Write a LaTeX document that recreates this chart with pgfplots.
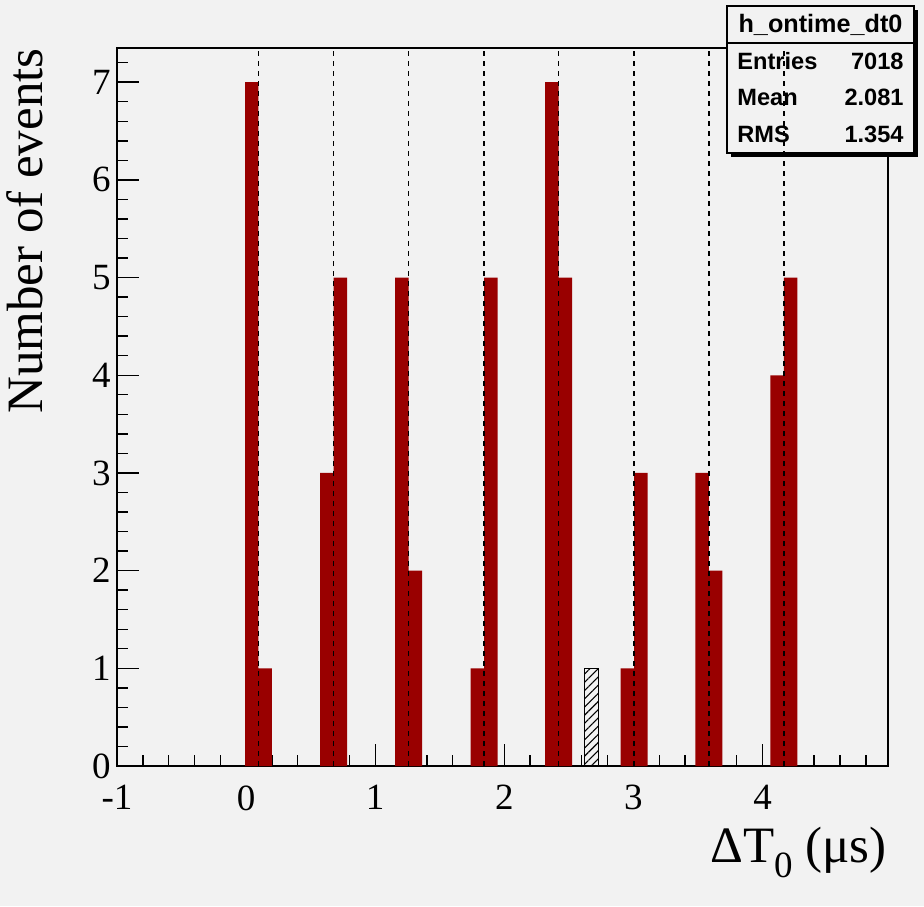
\documentclass[border=0pt]{standalone}
\usepackage{fontspec}
\setmainfont{Liberation Serif}
\newfontfamily\statfont{Liberation Sans}
\usepackage{pgfplots}
\pgfplotsset{compat=1.18}
\usetikzlibrary{patterns.meta}
\definecolor{bg}{RGB}{242,242,242}
\definecolor{barred}{RGB}{153,0,0}
\begin{document}
\begin{tikzpicture}
\useasboundingbox (-58.5pt,-70pt) rectangle (403.5pt,383pt);
\fill[bg] (-58.5pt,-70pt) rectangle (403.5pt,383pt);
\begin{axis}[
  at={(0pt,0pt)}, anchor=south west, scale only axis,
  width=385.5pt, height=359pt,
  xmin=-1, xmax=4.972, ymin=0, ymax=7.35,
  axis line style={line width=0.9pt},
  tick pos=left, tick align=inside,
  xtick={-1,0,1,2,3,4}, xticklabels={-1,0,1,2,3,4},
  ytick={0,1,2,3,4,5,6,7}, yticklabels={0,1,2,3,4,5,6,7},
  minor xtick={-1,-0.8,...,4.85},
  minor ytick={0,0.2,...,7.25},
  major tick length=11pt, minor tick length=5.5pt,
  every tick/.style={black, line width=0.7pt},
  ticklabel style={font=\fontsize{18.5}{18.5}\selectfont},
  xticklabel style={anchor=north, inner sep=0pt, yshift=-9.5pt},
  yticklabel style={anchor=east, inner sep=0pt, xshift=-3pt},
]
\addplot[fill=barred, draw=none] coordinates {(-0.0085,0) (-0.0085,7) (0.096,7) (0.096,1) (0.2005,1) (0.2005,0)} \closedcycle;
\addplot[fill=barred, draw=none] coordinates {(0.5735,0) (0.5735,3) (0.678,3) (0.678,5) (0.7825,5) (0.7825,0)} \closedcycle;
\addplot[fill=barred, draw=none] coordinates {(1.1545,0) (1.1545,5) (1.259,5) (1.259,2) (1.3635,2) (1.3635,0)} \closedcycle;
\addplot[fill=barred, draw=none] coordinates {(1.7385,0) (1.7385,1) (1.843,1) (1.843,5) (1.9475,5) (1.9475,0)} \closedcycle;
\addplot[fill=barred, draw=none] coordinates {(2.3165,0) (2.3165,7) (2.421,7) (2.421,5) (2.5255,5) (2.5255,0)} \closedcycle;
\addplot[fill=barred, draw=none] coordinates {(2.9005,0) (2.9005,1) (3.005,1) (3.005,3) (3.1095,3) (3.1095,0)} \closedcycle;
\addplot[fill=barred, draw=none] coordinates {(3.4795,0) (3.4795,3) (3.584,3) (3.584,2) (3.6885,2) (3.6885,0)} \closedcycle;
\addplot[fill=barred, draw=none] coordinates {(4.0615,0) (4.0615,4) (4.166,4) (4.166,5) (4.2705,5) (4.2705,0)} \closedcycle;
\addplot[pattern={Lines[angle=45, distance=2.9pt, line width=0.55pt]}, draw=black, line width=0.7pt] coordinates {(2.620,0) (2.620,1) (2.728,1) (2.728,0)} \closedcycle;
\end{axis}
% stats box
\fill[black] (307pt,304.5pt) rectangle (400.5pt,378pt);
\filldraw[fill=bg, draw=black, line width=0.8pt] (305pt,306.5pt) rectangle (398.5pt,380pt);
\draw[line width=0.8pt] (305pt,361.5pt) -- (398.5pt,361.5pt);
\begin{scope}[every node/.style={inner sep=0pt, font=\statfont\bfseries\fontsize{11.8}{11.8}\selectfont}]
\node[anchor=base, font=\statfont\bfseries\fontsize{12.6}{12.6}\selectfont] at (351.75pt,366.5pt) {h\_ontime\_dt0};
\node[anchor=base west] at (310pt,348pt) {Entries};
\node[anchor=base east] at (393.5pt,348pt) {7018};
\node[anchor=base west] at (310pt,330pt) {Mean};
\node[anchor=base east] at (393.5pt,330pt) {2.081};
\node[anchor=base west] at (310pt,311.5pt) {RMS};
\node[anchor=base east] at (393.5pt,311.5pt) {1.354};
\end{scope}
% dashed lines on top
\begin{axis}[
  at={(0pt,0pt)}, anchor=south west, scale only axis,
  width=385.5pt, height=359pt,
  xmin=-1, xmax=4.972, ymin=0, ymax=7.35, hide axis,
]
\addplot[black, line width=0.75pt, dash pattern=on 2.5pt off 2.5pt] coordinates {(0.096,0) (0.096,7.35)};
\addplot[black, line width=0.75pt, dash pattern=on 2.5pt off 2.5pt] coordinates {(0.678,0) (0.678,7.35)};
\addplot[black, line width=0.75pt, dash pattern=on 2.5pt off 2.5pt] coordinates {(1.259,0) (1.259,7.35)};
\addplot[black, line width=0.75pt, dash pattern=on 2.5pt off 2.5pt] coordinates {(1.843,0) (1.843,7.35)};
\addplot[black, line width=0.75pt, dash pattern=on 2.5pt off 2.5pt] coordinates {(2.421,0) (2.421,7.35)};
\addplot[black, line width=0.75pt, dash pattern=on 2.5pt off 2.5pt] coordinates {(3.005,0) (3.005,7.35)};
\addplot[black, line width=0.75pt, dash pattern=on 2.5pt off 2.5pt] coordinates {(3.584,0) (3.584,7.35)};
\addplot[black, line width=0.75pt, dash pattern=on 2.5pt off 2.5pt] coordinates {(4.166,0) (4.166,7.35)};
\end{axis}
% axis titles
\node[anchor=base east, inner sep=0pt, font=\fontsize{25.5}{25.5}\selectfont] at (385pt,-48pt)
  {ΔT\raisebox{-7.5pt}{\fontsize{18.5}{18.5}\selectfont 0} (μs)};
\node[rotate=90, anchor=base east, inner sep=0pt, font=\fontsize{25.5}{25.5}\selectfont] at (-37pt,359pt)
  {Number of events};
\end{tikzpicture}
\end{document}
